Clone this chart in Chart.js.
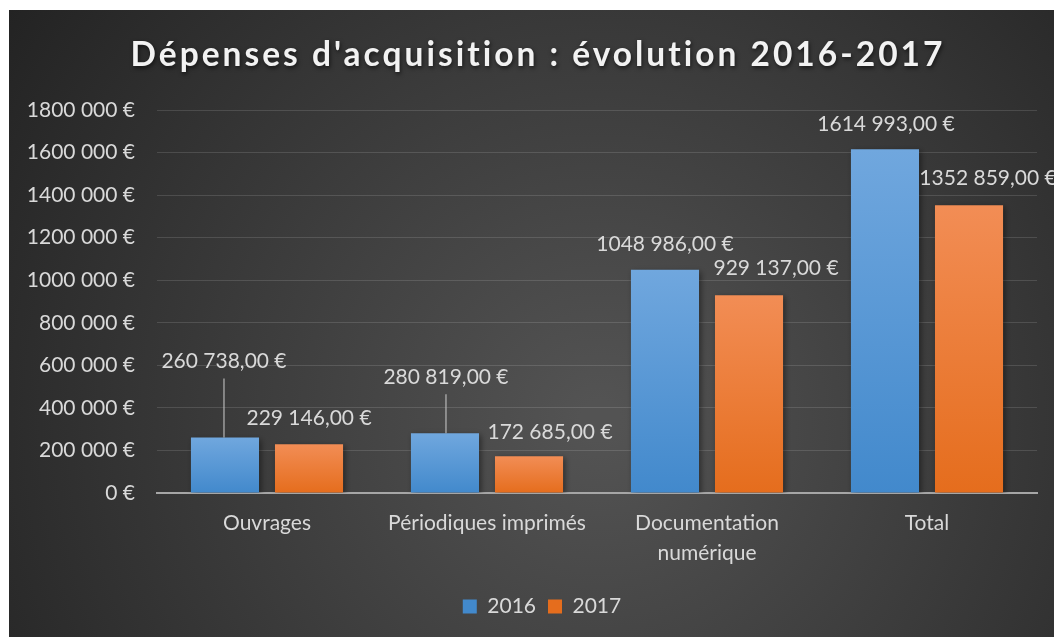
<!DOCTYPE html>
<html>
<head>
<meta charset="utf-8">
<script src="https://cdn.jsdelivr.net/npm/chart.js@4"></script>
<style>
  html, body { margin: 0; padding: 0; background: #fff; }
  #wrap { width: 1054px; height: 637px; position: relative; }
</style>
</head>
<body>
<div id="wrap"><canvas id="c"></canvas></div>
<script>
const categories = ['Ouvrages', 'Périodiques imprimés', ['Documentation', 'numérique'], 'Total'];
const years = ['2016', '2017'];
const values2016 = [260738, 280819, 1048986, 1614993];
const values2017 = [229146, 172685, 929137, 1352859];
const yMax = 1800000;
const yStep = 200000;
const titleText = "Dépenses d'acquisition : évolution 2016-2017";

const TEXT = '#d9d9d9';
const FONT = 'Lato';

// "1614 993" style, like the Excel format in the source
function fmt(v) {
    const n = Math.round(v);
    if (n < 1000) return String(n);
    const head = Math.floor(n / 1000);
    const tail = String(n % 1000).padStart(3, '0');
    return head + ' ' + tail;
}

function barGradient(top, bottom) {
    return ctx => {
        const chart = ctx.chart;
        const ys = chart.scales.y;
        if (!ys || ctx.raw === undefined) return top;
        const y0 = ys.getPixelForValue(ctx.raw);
        const y1 = ys.getPixelForValue(0);
        if (!isFinite(y0) || !isFinite(y1) || y0 === y1) return top;
        const g = chart.ctx.createLinearGradient(0, y0, 0, y1);
        g.addColorStop(0, top);
        g.addColorStop(1, bottom);
        return g;
    };
}

const backgroundPlugin = {
    id: 'bgPanel',
    afterLayout(chart) {
        // the source legend sits a little right of the panel centre
        if (chart.legend) {
            chart.legend.left += 19;
            chart.legend.right += 19;
        }
    },
    beforeDraw(chart) {
        const { ctx, width, height } = chart;
        ctx.save();
        ctx.fillStyle = '#ffffff';
        ctx.fillRect(0, 0, width, height);
        const g = ctx.createRadialGradient(600, 420, 20, 600, 420, 720);
        g.addColorStop(0, '#535353');
        g.addColorStop(1, '#232323');
        ctx.fillStyle = g;
        ctx.fillRect(9, 10, width - 9, height - 10);
        ctx.restore();
    },
    beforeDatasetsDraw(chart) {
        // soft drop shadow under the bars
        const { ctx } = chart;
        ctx.save();
        ctx.shadowColor = 'rgba(0,0,0,0.45)';
        ctx.shadowBlur = 6;
        ctx.shadowOffsetX = 2;
        ctx.shadowOffsetY = 2;
    },
    afterDatasetsDraw(chart) {
        chart.ctx.restore();
    }
};

const titlePlugin = {
    id: 'fancyTitle',
    afterDraw(chart) {
        const { ctx } = chart;
        ctx.save();
        ctx.font = 'bold 33.5px ' + FONT;
        ctx.letterSpacing = '3px';
        ctx.textAlign = 'center';
        ctx.textBaseline = 'middle';
        ctx.shadowColor = 'rgba(0,0,0,0.6)';
        ctx.shadowBlur = 4;
        ctx.shadowOffsetX = 1;
        ctx.shadowOffsetY = 2;
        ctx.fillStyle = '#f2f2f2';
        ctx.fillText(titleText, 538, 55);
        ctx.restore();
    }
};

// value labels, nudged the way they sit in the source chart
const labelOffsets = [
    [[-1, 76], [1, 56], [0, 26], [1, 25]],
    [[0, 26], [21, 24], [27, 27], [19, 27]]
];

const labelPlugin = {
    id: 'valueLabels',
    afterDatasetsDraw(chart) {
        const { ctx } = chart;
        ctx.save();
        ctx.font = '21px ' + FONT;
        ctx.textAlign = 'center';
        ctx.textBaseline = 'middle';
        chart.data.datasets.forEach((ds, di) => {
            chart.getDatasetMeta(di).data.forEach((bar, i) => {
                const [dx, dy] = labelOffsets[di][i];
                const x = bar.x + dx;
                const y = bar.y - dy;
                if (dy > 40) {
                    ctx.strokeStyle = 'rgba(200,200,200,0.7)';
                    ctx.lineWidth = 1.5;
                    ctx.beginPath();
                    ctx.moveTo(x, y + 17);
                    ctx.lineTo(x, bar.y);
                    ctx.stroke();
                }
                ctx.fillStyle = TEXT;
                ctx.fillText(fmt(ds.data[i]) + ',00 €', x, y);
            });
        });
        ctx.restore();
    }
};

new Chart(document.getElementById('c'), {
    type: 'bar',
    data: {
        labels: categories,
        datasets: [
            {
                label: years[0],
                data: values2016,
                backgroundColor: barGradient('#70a7de', '#4289cc'),
                categoryPercentage: 0.764,
                barPercentage: 0.81
            },
            {
                label: years[1],
                data: values2017,
                backgroundColor: barGradient('#f28d55', '#e56d1d'),
                categoryPercentage: 0.764,
                barPercentage: 0.81
            }
        ]
    },
    options: {
        responsive: true,
        maintainAspectRatio: false,
        animation: false,
        layout: { padding: { left: 9, right: 17, top: 110, bottom: 10 } },
        plugins: {
            legend: {
                position: 'bottom',
                labels: {
                    color: TEXT,
                    font: { family: FONT, size: 21 },
                    boxWidth: 14,
                    boxHeight: 14,
                    padding: 12
                }
            },
            tooltip: { enabled: false },
            title: { display: false }
        },
        scales: {
            x: {
                grid: { display: false, drawTicks: false },
                border: { color: '#a6a6a6', width: 2 },
                ticks: {
                    color: TEXT,
                    font: { family: FONT, size: 21, lineHeight: 1.43 },
                    padding: 15,
                    maxRotation: 0
                },
                afterFit(scale) { scale.height = 91; }
            },
            y: {
                min: 0,
                max: yMax,
                grid: { color: 'rgba(255,255,255,0.13)', drawTicks: false },
                border: { display: false },
                ticks: {
                    stepSize: yStep,
                    color: TEXT,
                    font: { family: FONT, size: 21 },
                    padding: 22,
                    callback: v => v === 0 ? '0 €' : fmt(v) + ' €'
                },
                afterFit(scale) { scale.width = 148; }
            }
        }
    },
    plugins: [backgroundPlugin, titlePlugin, labelPlugin]
});
</script>
</body>
</html>
